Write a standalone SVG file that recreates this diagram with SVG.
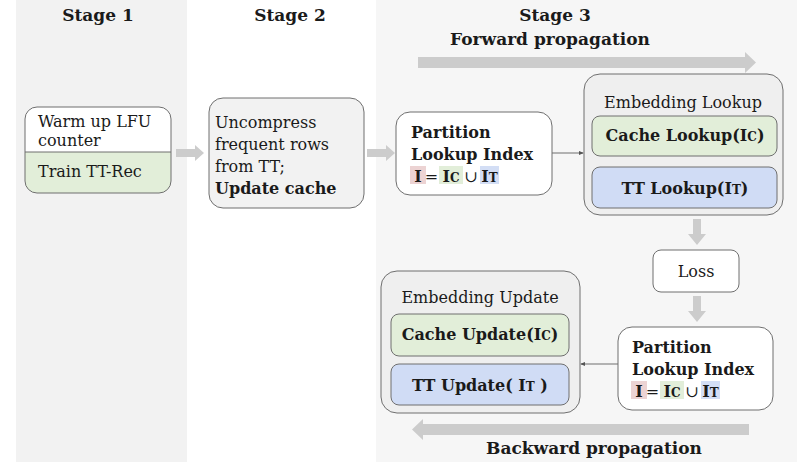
<svg xmlns="http://www.w3.org/2000/svg" width="802" height="462" viewBox="0 0 802 462">
  <style>
    .t { font-family: "DejaVu Serif", "Liberation Serif", serif; fill: #1a1a1a; }
    .r { font-size: 16px; }
    .b { font-weight: bold; }
    .h { font-size: 17px; font-weight: bold; }
    .eq { font-size: 16px; text-anchor: middle; }
    .box { stroke: #6f6f6f; stroke-width: 1; }
    .wide { fill: #cccccc; }
    .link { stroke: #6f6f6f; stroke-width: 1; fill: none; }
  </style>
  <defs>
    <marker id="tip" viewBox="0 0 6 6" refX="5" refY="3" markerWidth="5" markerHeight="5" orient="auto">
      <path d="M0,0.5 L6,3 L0,5.5 Z" fill="#555555"/>
    </marker>
  </defs>

  <!-- stage columns -->
  <rect x="0" y="0" width="802" height="462" fill="#ffffff"/>
  <rect x="16" y="0" width="171" height="462" fill="#f2f2f2"/>
  <rect x="376" y="0" width="421" height="462" fill="#f6f6f6"/>

  <!-- headings -->
  <text class="t h" x="98" y="21" text-anchor="middle">Stage 1</text>
  <text class="t h" x="290" y="21" text-anchor="middle">Stage 2</text>
  <text class="t h" x="555" y="21" text-anchor="middle">Stage 3</text>
  <text class="t h" x="550" y="45" text-anchor="middle">Forward propagation</text>
  <text class="t h" x="594" y="454" text-anchor="middle">Backward propagation</text>

  <!-- broad flow arrows -->
  <g id="flow-arrows" class="wide">
    <path d="M418,57 H745 V52 L756,62.5 L745,73 V68 H418 Z"/>
    <path d="M749,424 H423 V419 L412,429.5 L423,440 V435 H749 Z"/>
    <path d="M176,149 H195 V145 L204,153 L195,161 V157 H176 Z"/>
    <path d="M367,149 H386 V145 L395,153 L386,161 V157 H367 Z"/>
    <path d="M693,219 H701 V234 H706 L697,245 L688,234 H693 Z"/>
    <path d="M693,296 H701 V311 H706 L697,322 L688,311 H693 Z"/>
  </g>

  <!-- Stage 1 -->
  <g id="warmup">
    <path d="M25,152 V119 A12,12 0 0 1 37,107 H159 A12,12 0 0 1 171,119 V152 Z" fill="#ffffff"/>
    <path d="M25,152 V181 A12,12 0 0 0 37,193 H159 A12,12 0 0 0 171,181 V152 Z" fill="#e2eed9"/>
    <rect class="box" x="25" y="107" width="146" height="86" rx="12" fill="none"/>
    <line x1="25" y1="152" x2="171" y2="152" stroke="#6f6f6f"/>
    <text class="t r" x="38" y="127">Warm up LFU</text>
    <text class="t r" x="38" y="146">counter</text>
    <text class="t r" x="38" y="177">Train TT-Rec</text>
  </g>

  <!-- Stage 2 -->
  <g id="uncompress">
    <rect class="box" x="209" y="98" width="155" height="110" rx="14" fill="#f2f2f2"/>
    <text class="t r" x="215" y="128">Uncompress</text>
    <text class="t r" x="215" y="150">frequent rows</text>
    <text class="t r" x="215" y="172">from TT;</text>
    <text class="t r b" x="215" y="194" font-size="16.5">Update cache</text>
  </g>

  <!-- Stage 3: forward -->
  <g id="partition-fwd">
    <rect class="box" x="396" y="112" width="156" height="83" rx="14" fill="#ffffff"/>
    <text class="t r b" x="411" y="138">Partition</text>
    <text class="t r b" x="411" y="160">Lookup Index</text>
    <rect x="410" y="166" width="16" height="18" fill="#ecd3d3"/>
    <rect x="439" y="166" width="24" height="18" fill="#e2eed9"/>
    <rect x="480" y="166" width="19" height="18" fill="#d3def5"/>
    <text class="t eq b" x="418" y="182" font-size="17">I</text>
    <text class="t eq" x="431.5" y="182">=</text>
    <text class="t eq b" x="451" y="182" font-size="17">I<tspan font-size="12">C</tspan></text>
    <text class="t eq" x="471" y="182">∪</text>
    <text class="t eq b" x="489.5" y="182" font-size="17">I<tspan font-size="12">T</tspan></text>
  </g>

  <g id="embedding-lookup">
    <rect class="box" x="584" y="74" width="199" height="141" rx="16" fill="#efefef"/>
    <text class="t r" x="683" y="108" text-anchor="middle" font-size="16.5">Embedding Lookup</text>
    <rect class="box" x="592" y="116" width="185" height="40" rx="8" fill="#e2eed9"/>
    <text class="t r b" x="685" y="141" text-anchor="middle">Cache Lookup(I<tspan font-size="12">C</tspan>)</text>
    <rect class="box" x="592" y="167" width="185" height="41" rx="8" fill="#d0dcf5"/>
    <text class="t r b" x="685" y="194" text-anchor="middle">TT Lookup(I<tspan font-size="12">T</tspan>)</text>
  </g>

  <g id="loss">
    <rect class="box" x="653" y="250" width="86" height="42" rx="8" fill="#ffffff"/>
    <text class="t r" x="696" y="277" text-anchor="middle">Loss</text>
  </g>

  <!-- Stage 3: backward -->
  <g id="partition-bwd">
    <rect class="box" x="618" y="327" width="155" height="83" rx="14" fill="#ffffff"/>
    <text class="t r b" x="632" y="353">Partition</text>
    <text class="t r b" x="632" y="375">Lookup Index</text>
    <rect x="631" y="381" width="16" height="18" fill="#ecd3d3"/>
    <rect x="660" y="381" width="24" height="18" fill="#e2eed9"/>
    <rect x="701" y="381" width="19" height="18" fill="#d3def5"/>
    <text class="t eq b" x="639" y="397" font-size="17">I</text>
    <text class="t eq" x="652.5" y="397">=</text>
    <text class="t eq b" x="672" y="397" font-size="17">I<tspan font-size="12">C</tspan></text>
    <text class="t eq" x="692" y="397">∪</text>
    <text class="t eq b" x="710.5" y="397" font-size="17">I<tspan font-size="12">T</tspan></text>
  </g>

  <g id="embedding-update">
    <rect class="box" x="381" y="271" width="199" height="142" rx="16" fill="#efefef"/>
    <text class="t r" x="480" y="303" text-anchor="middle" font-size="16.5">Embedding Update</text>
    <rect class="box" x="391" y="314" width="178" height="42" rx="8" fill="#e2eed9"/>
    <text class="t r b" x="480" y="340" text-anchor="middle">Cache Update(I<tspan font-size="12">C</tspan>)</text>
    <rect class="box" x="391" y="364" width="178" height="41" rx="8" fill="#d0dcf5"/>
    <text class="t r b" x="480" y="391" text-anchor="middle">TT Update( I<tspan font-size="12">T</tspan> )</text>
  </g>

  <!-- thin connectors -->
  <g id="connectors">
    <line class="link" x1="552" y1="153" x2="583" y2="153" marker-end="url(#tip)"/>
    <line class="link" x1="618" y1="364" x2="581" y2="364" marker-end="url(#tip)"/>
  </g>
</svg>
